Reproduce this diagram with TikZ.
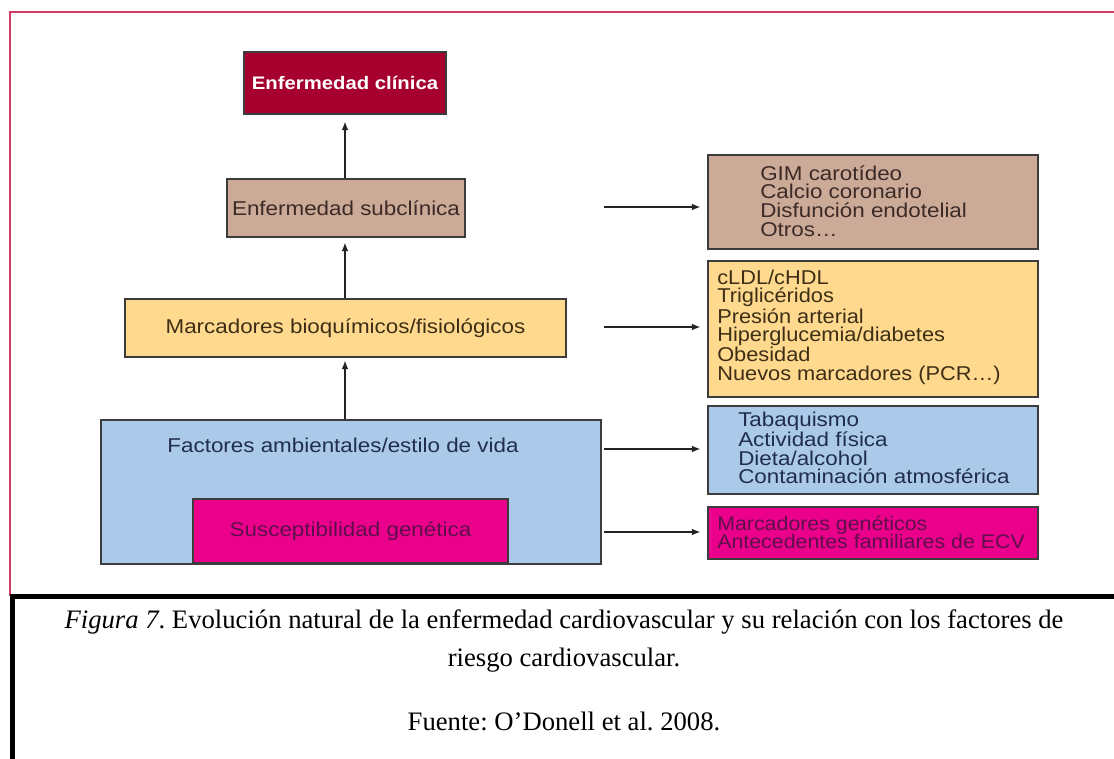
\documentclass[tikz,border=0pt]{standalone}
\usepackage{fontspec}
\setmainfont{Liberation Serif}
\newfontfamily\dfont[FakeStretch=1.12]{Liberation Sans}
\newfontfamily\dfontn[FakeStretch=1.09]{Liberation Sans}
\usetikzlibrary{arrows.meta}
\frenchspacing
\definecolor{frameC}{RGB}{205,60,100}
\definecolor{bordC}{RGB}{60,60,60}
\definecolor{clinF}{RGB}{166,0,47}
\definecolor{subF}{RGB}{204,170,152}
\definecolor{marcF}{RGB}{254,217,142}
\definecolor{factF}{RGB}{171,202,234}
\definecolor{genF}{RGB}{234,0,139}
\definecolor{subT}{RGB}{60,42,38}
\definecolor{marcT}{RGB}{62,46,22}
\definecolor{factT}{RGB}{32,45,80}
\definecolor{genT}{RGB}{95,15,75}
\definecolor{arrC}{RGB}{35,35,35}
\begin{document}
\begin{tikzpicture}[x=0.75pt,y=-0.75pt,
  box/.style={draw=bordC, line width=1.1pt, inner sep=0pt},
  dtext/.style={font=\dfont\fontsize{15}{16}\selectfont},
  ltext/.style={font=\dfont\fontsize{15}{13.9}\selectfont, align=left, anchor=west, inner sep=0pt},
  arr/.style={draw=arrC, line width=1.1pt, -{Latex[length=6.5pt,width=5pt]}},
  rgtbox/.style={box, minimum width=247.5pt}
]
\useasboundingbox (0,0) rectangle (1114,759);
\fill[white] (0,0) rectangle (1114,759);
% frames
\draw[frameC, line width=1.5pt] (1120,12) -- (10,12) -- (10,596);
\draw[black, line width=3.75pt] (10,596) -- (1120,596);
\draw[black, line width=3.75pt] (12.5,594) -- (12.5,765);

% left column
\node[box, fill=clinF, minimum width=151.5pt, minimum height=46.5pt, text=white,
      font=\dfont\fontsize{13.6}{16}\selectfont\bfseries] (clin) at (345,83) {Enfermedad clínica};
\node[box, fill=subF, minimum width=178.5pt, minimum height=43.5pt, dtext, text=subT] (sub) at (346,208) {Enfermedad subclínica};
\node[box, fill=marcF, minimum width=330.75pt, minimum height=43.5pt, dtext, text=marcT] (marc) at (345.5,328) {Marcadores bioquímicos/fisiológicos};
\node[box, fill=factF, minimum width=375pt, minimum height=108pt] (fact) at (351,492) {};
\node[dtext, text=factT, inner sep=0pt] (facttxt) at (343,445) {Factores ambientales/estilo de vida};
\node[box, fill=genF, minimum width=236.25pt, minimum height=48pt, dtext, text=genT] (gen) at (350.5,531) {Susceptibilidad genética};

% right column
\node[rgtbox, fill=subF, minimum height=70.5pt] (r1) at (873,202) {};
\node[ltext, text=subT] (r1t) at (760,201) {GIM carotídeo\\Calcio coronario\\Disfunción endotelial\\Otros…};
\node[rgtbox, fill=marcF, minimum height=102pt] (r2) at (873,329) {};
\node[ltext, text=marcT, font=\dfontn\fontsize{15}{13.9}\selectfont] (r2t) at (717,327) {cLDL/cHDL\\Triglicéridos\\Presión arterial\\Hiperglucemia/diabetes\\Obesidad\\Nuevos marcadores (PCR…)};
\node[rgtbox, fill=factF, minimum height=66pt] (r3) at (873,450) {};
\node[ltext, text=factT] (r3t) at (738,448) {Tabaquismo\\Actividad física\\Dieta/alcohol\\Contaminación atmosférica};
\node[rgtbox, fill=genF, minimum height=39pt] (r4) at (873,533) {};
\node[ltext, text=genT, font=\dfontn\fontsize{14.7}{13.9}\selectfont] (r4t) at (717,532.5) {Marcadores genéticos\\Antecedentes familiares de ECV};

% vertical arrows
\draw[arr, shorten >=5pt] (sub.north -| clin.south) -- (clin.south);
\draw[arr, shorten >=3.5pt] (marc.north -| clin.south) -- (sub.south -| clin.south);
\draw[arr, shorten >=2pt] (fact.north -| clin.south) -- (marc.south -| clin.south);

% horizontal arrows
\coordinate (a1) at (604,207);
\coordinate (a2) at (604,327);
\coordinate (a3) at (604,449);
\coordinate (a4) at (604,532);
\draw[arr, shorten >=5pt] (a1) -- (a1 -| r1.west);
\draw[arr, shorten >=5pt] (a2) -- (a2 -| r2.west);
\draw[arr, shorten >=5pt] (a3) -- (a3 -| r3.west);
\draw[arr, shorten >=5pt] (a4) -- (a4 -| r4.west);

% caption
\node[font=\fontsize{20}{28.5}\selectfont, align=center, inner sep=0pt] (cap) at (564,641)
  {\textit{Figura 7}. Evolución natural de la enfermedad cardiovascular y su relación con los factores de\\riesgo cardiovascular.};
\node[font=\fontsize{20}{22}\selectfont, inner sep=0pt] (src) at (564,721) {Fuente: O’Donell et al. 2008.};
\end{tikzpicture}
\end{document}
